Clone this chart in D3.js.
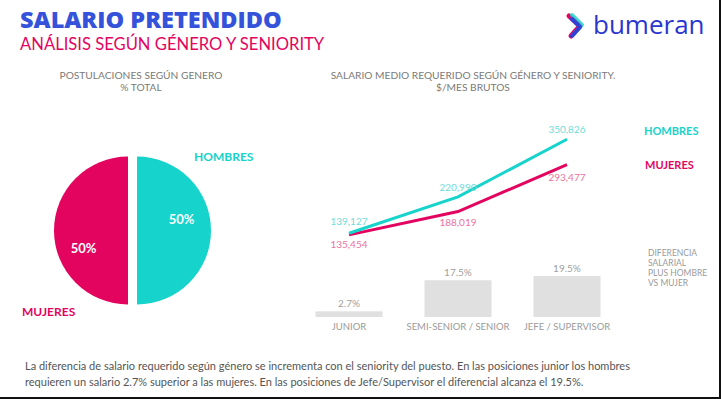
<!DOCTYPE html>
<html>
<head>
<meta charset="utf-8">
<script src="https://cdn.jsdelivr.net/npm/d3@7"></script>
<style>
  body { margin: 0; background: #fff; }
  svg { display: block; }
</style>
</head>
<body>
<script>
// data
var generos = ['HOMBRES', 'MUJERES'];
var postulaciones = [50, 50];
var seniority = ['JUNIOR', 'SEMI-SENIOR / SENIOR', 'JEFE / SUPERVISOR'];
var salarioHombres = [139127, 220990, 350826];
var salarioMujeres = [135454, 188019, 293477];
var diferencia = [2.7, 17.5, 19.5];

var W = 721, H = 399;
var cyan = '#16d3cb', pink = '#e3045f', blue = '#3552da';
var cyanLight = '#6fdcd8', pinkLight = '#ea73a0';
var font = 'Lato, sans-serif';

var svg = d3.select('body').append('svg')
  .attr('width', W)
  .attr('height', H)
  .style('font-family', font);

// frame (right and bottom edges)
svg.append('line').attr('x1', 720).attr('x2', 720).attr('y1', 0).attr('y2', H)
  .style('stroke', '#111').style('stroke-width', 2);
svg.append('line').attr('x1', 0).attr('x2', W).attr('y1', 398).attr('y2', 398)
  .style('stroke', '#111').style('stroke-width', 2);

// titles
svg.append('text')
  .text('SALARIO PRETENDIDO')
  .attr('x', 20).attr('y', 28)
  .style('font-family', 'Open Sans, sans-serif')
  .style('font-size', '23.5px')
  .style('font-weight', 800)
  .style('fill', blue);

svg.append('text')
  .text('ANÁLISIS SEGÚN GÉNERO Y SENIORITY')
  .attr('x', 20).attr('y', 50)
  .style('font-size', '16.6px')
  .style('fill', pink);

// logo
var logo = svg.append('g').attr('transform', 'translate(567, 14)');
logo.append('path').attr('d', 'M2,2 L13,12 L4,22').style('fill', 'none')
  .style('stroke', pink).style('stroke-width', 5).style('stroke-linecap', 'round').style('stroke-linejoin', 'round');
logo.append('path').attr('d', 'M5,1 L15,11 L6,21').style('fill', 'none')
  .style('stroke', cyan).style('stroke-width', 4).style('stroke-linecap', 'round').style('stroke-linejoin', 'round').style('opacity', 0.8);
logo.append('path').attr('d', 'M5,5 L13,13 L5,22').style('fill', 'none')
  .style('stroke', '#3340d6').style('stroke-width', 4).style('stroke-linecap', 'round').style('stroke-linejoin', 'round');
svg.append('text')
  .text('bumeran')
  .attr('x', 593).attr('y', 34)
  .style('font-family', 'Open Sans, sans-serif')
  .style('font-size', '26px')
  .style('fill', '#2b36d0');

// === pie
var grayTxt = '#7a7a7a';
svg.append('text').text('POSTULACIONES SEGÚN GENERO')
  .attr('x', 141).attr('y', 79).attr('text-anchor', 'middle')
  .style('font-size', '10.2px').style('fill', grayTxt);
svg.append('text').text('% TOTAL')
  .attr('x', 141).attr('y', 91).attr('text-anchor', 'middle')
  .style('font-size', '10.2px').style('fill', grayTxt);

var pieG = svg.append('g').attr('transform', 'translate(132.5, 230.5)');
var pie = d3.pie().sort(null).value(d => d);
var arc = d3.arc().innerRadius(0).outerRadius(74);
var pieColor = d3.scaleOrdinal().domain(generos).range([cyan, pink]);
var slices = pie(postulaciones);

pieG.selectAll('path')
  .data(slices)
  .enter()
  .append('path')
  .attr('d', arc)
  .attr('transform', (d, i) => `translate(${i === 0 ? 4.5 : -4.5}, 0)`)
  .style('fill', (d, i) => pieColor(generos[i]));

pieG.selectAll('.pct')
  .data(slices)
  .enter()
  .append('text')
  .attr('class', 'pct')
  .text(d => d.data + '%')
  .attr('x', (d, i) => i === 0 ? 49 : -49)
  .attr('y', (d, i) => i === 0 ? -7 : 22)
  .attr('text-anchor', 'middle')
  .style('font-size', '13px')
  .style('font-weight', 'bold')
  .style('fill', '#fff');

svg.append('text').text('HOMBRES')
  .attr('x', 194).attr('y', 161)
  .style('font-size', '12px').style('font-weight', 'bold').style('fill', cyan);
svg.append('text').text('MUJERES')
  .attr('x', 22).attr('y', 316)
  .style('font-size', '12px').style('font-weight', 'bold').style('fill', pink);

// === line chart
svg.append('text').text('SALARIO MEDIO REQUERIDO SEGÚN GÉNERO Y SENIORITY.')
  .attr('x', 473).attr('y', 79).attr('text-anchor', 'middle')
  .style('font-size', '10.2px').style('fill', grayTxt);
svg.append('text').text('$/MES BRUTOS')
  .attr('x', 473).attr('y', 91).attr('text-anchor', 'middle')
  .style('font-size', '10.2px').style('fill', grayTxt);

var x = d3.scalePoint().domain(seniority).range([349, 567]);
var y = d3.scaleLinear().domain([0, 400000]).range([295, 117.4]);

var line = d3.line()
  .x((d, i) => x(seniority[i]))
  .y(d => y(d));

svg.append('path').datum(salarioMujeres)
  .attr('d', line)
  .style('fill', 'none').style('stroke', pink).style('stroke-width', 3);
svg.append('path').datum(salarioHombres)
  .attr('d', line)
  .style('fill', 'none').style('stroke', cyan).style('stroke-width', 3);

var fmt = d3.format(',');
svg.selectAll('.lblH')
  .data(salarioHombres)
  .enter()
  .append('text')
  .text(d => fmt(d))
  .attr('x', (d, i) => x(seniority[i]))
  .attr('y', (d, i) => y(d) - (i === 0 ? 8 : 6))
  .attr('text-anchor', 'middle')
  .style('font-size', '10px').style('fill', cyanLight);
svg.selectAll('.lblM')
  .data(salarioMujeres)
  .enter()
  .append('text')
  .text(d => fmt(d))
  .attr('x', (d, i) => x(seniority[i]))
  .attr('y', (d, i) => y(d) + (i === 0 ? 13 : i === 1 ? 14 : 16))
  .attr('text-anchor', 'middle')
  .style('font-size', '10px').style('fill', pinkLight);

svg.append('text').text('HOMBRES')
  .attr('x', 644).attr('y', 135)
  .style('font-size', '11px').style('font-weight', 'bold').style('fill', cyan);
svg.append('text').text('MUJERES')
  .attr('x', 645).attr('y', 169)
  .style('font-size', '11px').style('font-weight', 'bold').style('fill', pink);

// === bars
var yb = d3.scaleLinear().domain([0, 20]).range([317, 275]);
var bw = 67;
svg.selectAll('.bar')
  .data(diferencia)
  .enter()
  .append('rect')
  .attr('x', (d, i) => x(seniority[i]) - bw / 2)
  .attr('y', d => yb(d))
  .attr('width', bw)
  .attr('height', d => yb(0) - yb(d))
  .style('fill', '#e0e0e0');

svg.selectAll('.barLbl')
  .data(diferencia)
  .enter()
  .append('text')
  .text(d => d + '%')
  .attr('x', (d, i) => x(seniority[i]))
  .attr('y', d => yb(d) - 4)
  .attr('text-anchor', 'middle')
  .style('font-size', '10px').style('fill', '#a0a0a0');

svg.selectAll('.cat')
  .data(seniority)
  .enter()
  .append('text')
  .text(d => d)
  .attr('x', d => x(d))
  .attr('y', 330)
  .attr('text-anchor', 'middle')
  .style('font-size', '9.5px').style('fill', '#9a9a9a');

['DIFERENCIA', 'SALARIAL', 'PLUS HOMBRE', 'VS MUJER'].forEach(function(t, i) {
  svg.append('text').text(t)
    .attr('x', 648).attr('y', 256 + i * 10)
    .style('font-size', '8.5px').style('fill', '#9a9a9a');
});

// footer note
svg.append('text')
  .text('La diferencia de salario requerido según género se incrementa con el seniority del puesto. En las posiciones junior los hombres')
  .attr('x', 25).attr('y', 370)
  .style('font-size', '11px').style('fill', '#555');
svg.append('text')
  .text('requieren un salario 2.7% superior a las mujeres. En las posiciones de Jefe/Supervisor el diferencial alcanza el 19.5%.')
  .attr('x', 25).attr('y', 386)
  .style('font-size', '11px').style('fill', '#555');
</script>
</body>
</html>
